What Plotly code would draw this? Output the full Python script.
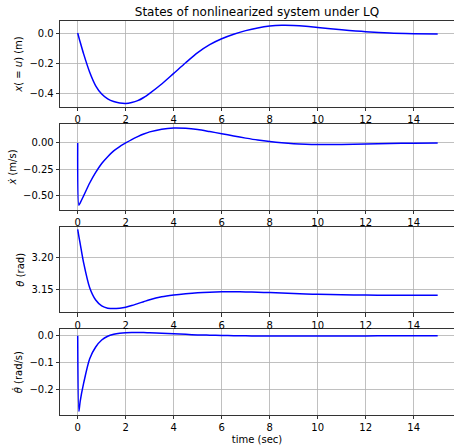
import plotly.graph_objects as go

# time samples (s)
t = [0, 0.05, 0.1, 0.25, 0.5, 0.75, 1.0, 1.25, 1.5, 1.75, 2.0, 2.25, 2.5, 2.75, 3.0, 3.5, 4.0,
     4.5, 5.0, 5.5, 6.0, 6.5, 7.0, 7.5, 8.0, 8.5, 9.0, 9.5, 10, 11, 12, 13, 14, 15]

# cart position x (m)
pos = [0, -0.03, -0.058, -0.14, -0.26, -0.35, -0.405, -0.437, -0.455, -0.464, -0.467,
       -0.461, -0.449, -0.428, -0.400, -0.338, -0.268, -0.197, -0.13, -0.077, -0.038, -0.008, 0.016,
       0.034, 0.046, 0.051, 0.05, 0.045, 0.037, 0.022, 0.009, 0.0, -0.004, -0.006]

# cart velocity (m/s)
vel = [0, -0.59, -0.57, -0.50, -0.38, -0.28, -0.195, -0.13, -0.075, -0.034, 0.0,
       0.032, 0.06, 0.085, 0.105, 0.131, 0.142, 0.139, 0.127, 0.108, 0.088, 0.066, 0.046, 0.028,
       0.013, 0.001, -0.008, -0.013, -0.015, -0.014, -0.009, -0.005, -0.002, 0.0]

# pendulum angle (rad)
ang = [3.243, 3.232, 3.222, 3.191, 3.153, 3.134, 3.125, 3.1215, 3.1208, 3.1215, 3.123,
       3.1255, 3.1285, 3.1315, 3.1345, 3.139, 3.1418, 3.1438, 3.1453, 3.1462, 3.1467, 3.1468, 3.1466,
       3.1461, 3.1455, 3.1448, 3.1441, 3.1435, 3.1429, 3.1421, 3.1417, 3.1415, 3.1415, 3.1416]

# angular velocity (rad/s)
angvel = [0, -0.28, -0.245, -0.175, -0.085, -0.042, -0.016, -0.002, 0.005, 0.009, 0.011,
          0.0118, 0.012, 0.0118, 0.011, 0.009, 0.007, 0.005, 0.003, 0.002, 0.001, 0.0, -0.0005, -0.001,
          -0.001, -0.0013, -0.0015, -0.0015, -0.0015, -0.001, -0.0008, -0.0004, -0.0002, 0.0]

series = [pos, vel, ang, angvel]
ylabels = ["<i>x</i>( = <i>u</i>) (m)", "<i>ẋ</i> (m/s)", "<i>θ</i> (rad)", "<i>θ̇</i> (rad/s)"]
title = "States of nonlinearized system under LQ"
xlabel = "time (sec)"

W, H = 454, 445
ML, MR, MT, MB = 60, 0, 21, 30
plot_h = H - MT - MB
panels_px = [(21, 107), (124, 210), (227.3, 312.3), (329.3, 415)]
yranges = [[-0.491, 0.08], [-0.636, 0.18], [3.1151, 3.2463], [-0.2937, 0.0237]]
ydticks = [0.2, 0.25, 0.05, 0.1]
yfmts = [".1f", ".2f", ".2f", ".1f"]

FONT = "DejaVu Sans"
fig = go.Figure()
layout = dict(
    width=W, height=H,
    margin=dict(l=ML, r=MR, t=MT, b=MB),
    paper_bgcolor="white", plot_bgcolor="white",
    showlegend=False,
    font=dict(family=FONT, size=10, color="black"),
    title=dict(text=title, x=0.5, xref="paper", xanchor="center",
               y=1 - 12 / H, yref="container", yanchor="middle",
               font=dict(family=FONT, size=12, color="black")),
)

for i, ys in enumerate(series):
    k = "" if i == 0 else str(i + 1)
    fig.add_trace(go.Scatter(x=t, y=ys, mode="lines",
                             line=dict(color="#0000ff", width=1.5, shape="spline", smoothing=0.8),
                             xaxis="x" + k, yaxis="y" + k, hoverinfo="skip"))
    top, bot = panels_px[i]
    dom = [(H - MB - bot) / plot_h, (H - MB - top) / plot_h]
    xa = dict(domain=[0, 1], range=[-0.7375, 15.679], anchor="y" + k,
              tickmode="linear", tick0=0, dtick=2,
              showgrid=True, gridcolor="#b0b0b0", gridwidth=0.8,
              zeroline=False, showline=True, mirror=True,
              linecolor="black", linewidth=0.8,
              ticks="outside", ticklen=3.5, tickwidth=0.8, tickcolor="black",
              tickfont=dict(family=FONT, size=10, color="black"))
    if i == 3:
        xa["title"] = dict(text=xlabel, standoff=5,
                           font=dict(family=FONT, size=10, color="black"))
    ya = dict(domain=dom, range=yranges[i], anchor="x" + k,
              tickmode="linear", tick0=0, dtick=ydticks[i], tickformat=yfmts[i],
              showgrid=True, gridcolor="#b0b0b0", gridwidth=0.8,
              zeroline=False, showline=True, mirror=False,
              linecolor="black", linewidth=0.8,
              ticks="outside", ticklen=3.5, tickwidth=0.8, tickcolor="black",
              tickfont=dict(family=FONT, size=10, color="black"),
              automargin=False,
              title=dict(text=ylabels[i], standoff=4,
                         font=dict(family=FONT, size=10, color="black")))
    layout["xaxis" + k] = xa
    layout["yaxis" + k] = ya

fig.update_layout(**layout)
fig.write_html("out.html", config={"displayModeBar": False, "staticPlot": True},
               post_script="document.body.style.margin='0';document.body.style.overflow='hidden';")
